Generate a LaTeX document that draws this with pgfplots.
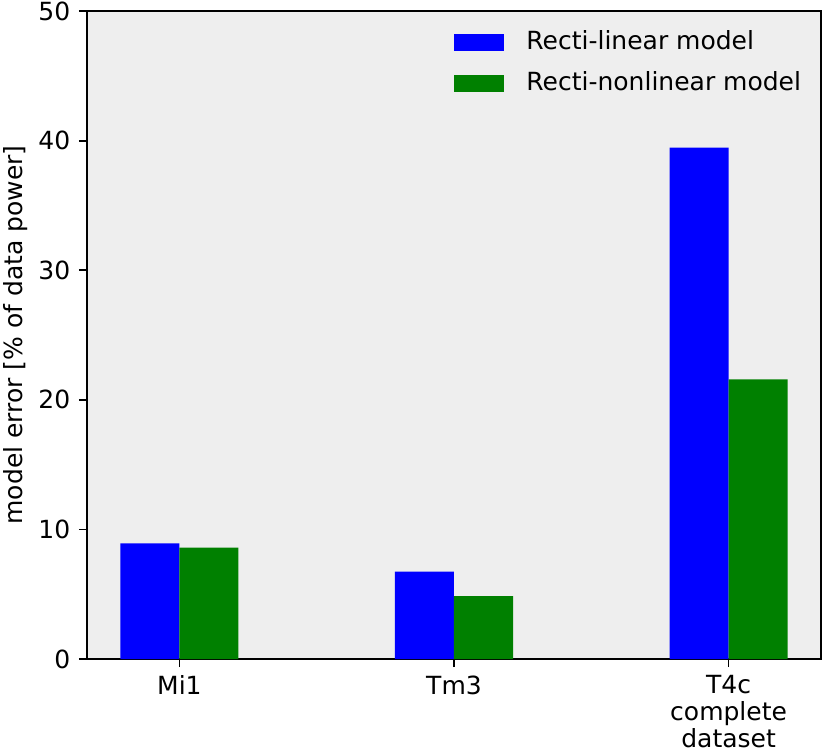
\documentclass[border=0pt]{standalone}
\usepackage{fontspec}
\setmainfont{DejaVu Sans}
\usepackage{pgfplots}
\pgfplotsset{compat=1.18}
\usetikzlibrary{calc}

\definecolor{bgray}{HTML}{EEEEEE}
\definecolor{mblue}{RGB}{0,0,255}
\definecolor{mgreen}{RGB}{0,128,0}

\begin{document}
\fontsize{12.5}{15}\selectfont
\begin{tikzpicture}
\begin{axis}[
    name=ax,
    scale only axis,
    width=367pt, height=324pt,
    xmin=-0.3365, xmax=2.3365,
    ymin=0, ymax=50,
    ytick={0,10,20,30,40,50},
    xtick={0,1,2},
    xticklabels={Mi1, Tm3, {T4c\\complete\\dataset}},
    xticklabel style={align=center, font=\fontsize{12.5}{13.4}\selectfont},
    axis background/.style={fill=bgray},
    axis line style={line width=0.9pt},
    tick style={line width=0.9pt, black},
    tick align=outside,
    major tick length=4pt,
    xtick pos=bottom, ytick pos=left,
    /pgf/number format/assume math mode=true,
    ylabel={model error [\% of data power]},
    ylabel style={yshift=-3pt},
    legend style={draw=none, fill=none, at={(0.5,0.976)}, anchor=north west,
        row sep=5pt, inner sep=0pt,
        nodes={inner sep=2pt}},
    legend cell align=left,
    legend image code/.code={\fill[#1] (0pt,-4.25pt) rectangle (25pt,4.25pt);},
    ]
\addplot[ybar, bar width=0.215, bar shift=-0.1075, fill=mblue, draw=none]
  coordinates {(0,8.93) (1,6.74) (2,39.45)};
\addplot[ybar, bar width=0.215, bar shift=0.1075, fill=mgreen, draw=none]
  coordinates {(0,8.59) (1,4.86) (2,21.58)};
\legend{\hspace{9pt}Recti-linear model, \hspace{9pt}Recti-nonlinear model}
\end{axis}
\pgfresetboundingbox
\path ($(ax.south west)+(-43.5pt,-48.5pt)$) rectangle ($(ax.north east)+(2.5pt,5.5pt)$);
\end{tikzpicture}
\end{document}
